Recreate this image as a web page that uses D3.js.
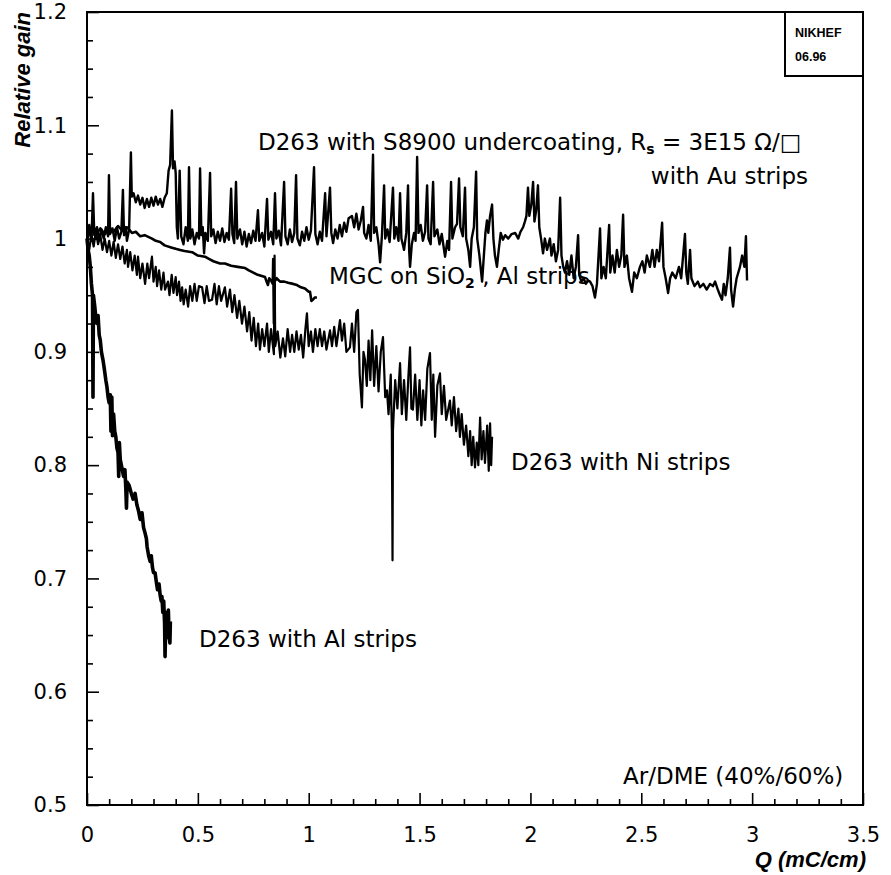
<!DOCTYPE html>
<html>
<head>
<meta charset="utf-8">
<script src="https://cdn.jsdelivr.net/npm/d3@7"></script>
<style>
  body { margin: 0; background: #fff; }
  svg { display: block; }
  .tick text { font-family: "DejaVu Sans", sans-serif; font-size: 21px; fill: #000; }
  .lbl { font-family: "DejaVu Sans", sans-serif; font-size: 23px; fill: #000; }
  .ttl { font-family: "Liberation Sans", Arial, sans-serif; font-weight: bold; font-style: italic; font-size: 22px; fill: #000; }
</style>
</head>
<body>
<script>
var width = 891, height = 875;

// Q (mC/cm) vs relative gain
var auStrips = [
  [0,1.0],[0.01,1.012],[0.02,0.998],[0.027,1.04],[0.033,1.003],[0.045,1.01],[0.055,0.999],[0.065,1.008],[0.075,1.0],[0.085,1.01],
  [0.095,1.002],[0.099,1.056],[0.104,1.004],[0.115,1.009],[0.125,0.998],[0.135,1.01],[0.145,1.0],[0.155,1.006],[0.162,1.043],[0.167,1.003],
  [0.175,1.01],[0.18,0.998],[0.19,1.008],[0.198,1.076],[0.202,1.037],[0.21,1.04],[0.22,1.032],[0.23,1.038],[0.24,1.03],[0.25,1.036],
  [0.26,1.027],[0.27,1.035],[0.28,1.028],[0.29,1.036],[0.30,1.029],[0.31,1.037],[0.32,1.03],[0.33,1.035],[0.34,1.028],[0.35,1.036],
  [0.36,1.04],[0.368,1.06],[0.375,1.065],[0.383,1.113],[0.388,1.062],[0.395,1.068],[0.40,1.058],[0.405,1.01],[0.41,1.0],[0.418,1.06],
  [0.425,1.002],[0.435,0.995],[0.445,1.01],[0.455,0.998],[0.46,1.063],[0.466,1.0],[0.475,1.008],[0.485,0.995],[0.495,1.005],[0.505,1.0],
  [0.51,1.062],[0.516,1.003],[0.522,1.01],[0.528,0.987],[0.534,1.005],[0.545,0.998],[0.555,1.058],[0.56,1.002],[0.57,1.008],[0.58,0.996],
  [0.59,1.006],[0.60,0.998],[0.61,1.009],[0.62,0.997],[0.63,1.005],[0.64,0.999],[0.65,1.044],[0.656,1.004],[0.664,0.996],[0.672,1.05],
  [0.678,1.0],[0.69,1.008],[0.70,0.995],[0.71,1.006],[0.72,0.993],[0.73,1.004],[0.74,0.996],[0.75,1.007],[0.76,0.998],[0.771,1.025],
  [0.777,0.998],[0.79,1.005],[0.80,0.993],[0.812,1.035],[0.818,0.999],[0.83,1.006],[0.84,0.995],[0.848,1.04],[0.854,1.0],[0.865,1.007],
  [0.875,0.994],[0.889,1.05],[0.895,1.002],[0.905,0.995],[0.915,1.008],[0.925,0.997],[0.935,1.005],[0.943,1.056],[0.949,1.0],[0.96,0.994],
  [0.97,1.006],[0.98,0.998],[0.99,1.01],[1.0,0.999],[1.01,1.007],[1.024,1.063],[1.03,1.004],[1.04,0.995],[1.05,1.006],[1.06,0.998],
  [1.074,1.04],[1.08,1.002],[1.096,1.045],[1.102,1.005],[1.11,0.996],[1.12,1.008],[1.13,1.0],[1.14,1.012],[1.15,1.002],[1.16,1.014],
  [1.17,1.006],[1.18,1.018],[1.195,1.02],[1.205,1.01],[1.215,1.022],[1.225,1.008],[1.235,1.016],[1.245,1.028],[1.25,1.005],[1.26,1.0],
  [1.27,1.012],[1.28,0.998],[1.29,1.074],[1.295,1.005],[1.305,1.01],[1.315,0.995],[1.322,0.979],[1.33,1.002],[1.34,1.047],[1.345,1.0],
  [1.355,1.008],[1.365,0.997],[1.38,1.045],[1.386,1.0],[1.395,1.01],[1.405,0.998],[1.412,1.04],[1.418,1.0],[1.43,0.99],[1.44,1.005],
  [1.448,1.047],[1.453,0.99],[1.457,0.975],[1.465,0.995],[1.475,1.005],[1.482,0.998],[1.489,1.072],[1.495,1.005],[1.505,1.012],[1.515,0.998],
  [1.525,1.006],[1.534,1.047],[1.54,1.0],[1.55,0.995],[1.561,1.05],[1.567,1.002],[1.58,1.008],[1.59,0.995],[1.6,1.004],[1.615,0.984],
  [1.625,0.998],[1.633,0.99],[1.642,1.05],[1.648,1.0],[1.66,1.01],[1.669,1.013],[1.678,1.053],[1.684,1.01],[1.695,1.002],[1.705,1.045],
  [1.71,1.0],[1.72,0.99],[1.728,0.975],[1.735,1.0],[1.745,1.01],[1.755,1.059],[1.76,1.0],[1.77,0.985],[1.782,0.962],[1.79,0.985],
  [1.797,1.005],[1.804,1.016],[1.81,1.005],[1.818,1.02],[1.827,1.03],[1.833,1.0],[1.84,0.985],[1.849,0.975],[1.857,0.99],[1.866,1.005],
  [1.876,0.999],[1.886,1.003],[1.9,1.0],[1.915,1.004],[1.931,1.005],[1.945,1.0],[1.955,1.006],[1.967,1.01],[1.975,1.015],[1.982,1.02],
  [1.989,1.045],[1.995,1.02],[2.004,1.03],[2.012,1.05],[2.018,1.015],[2.026,1.025],[2.034,1.047],[2.04,1.01],[2.048,1.0],[2.057,0.987],
  [2.065,1.0],[2.075,0.99],[2.088,1.0],[2.095,0.985],[2.105,0.995],[2.115,0.98],[2.125,0.99],[2.134,1.036],[2.14,0.985],[2.148,0.975],
  [2.156,0.97],[2.165,0.98],[2.175,0.968],[2.185,0.985],[2.195,0.965],[2.205,0.975],[2.215,1.003],[2.22,0.968],[2.23,0.962],[2.24,0.965],
  [2.25,0.96],[2.26,0.963],[2.269,0.962],[2.28,0.958],[2.291,0.948],[2.3,0.96],[2.314,1.009],[2.32,0.965],[2.33,0.975],[2.34,0.965],
  [2.355,1.012],[2.36,0.97],[2.37,0.985],[2.38,0.97],[2.39,0.99],[2.40,0.975],[2.41,0.985],[2.418,1.021],[2.424,0.975],[2.435,0.985],
  [2.445,0.965],[2.458,0.953],[2.468,0.97],[2.48,0.965],[2.494,0.975],[2.505,0.98],[2.515,0.97],[2.525,0.985],[2.539,0.975],[2.55,0.99],
  [2.56,0.975],[2.57,0.99],[2.58,0.98],[2.594,1.014],[2.6,0.975],[2.61,0.965],[2.621,0.952],[2.63,0.965],[2.64,0.97],[2.655,0.965],
  [2.67,0.975],[2.68,0.965],[2.697,1.004],[2.703,0.97],[2.71,0.96],[2.72,0.99],[2.726,0.965],[2.74,0.958],[2.755,0.962],[2.765,0.957],
  [2.78,0.96],[2.795,0.955],[2.81,0.96],[2.823,0.958],[2.833,0.962],[2.845,0.955],[2.855,0.95],[2.864,0.946],[2.872,0.96],[2.88,0.95],
  [2.89,0.965],[2.9,0.992],[2.905,0.955],[2.914,0.94],[2.922,0.955],[2.93,0.965],[2.945,0.975],[2.955,0.985],[2.965,0.975],[2.972,1.002],
  [2.977,0.963]
];

var mgcSiO2 = [
  [0,1.0],[0.02,1.008],[0.04,1.003],[0.06,1.009],[0.08,1.004],[0.10,1.01],[0.12,1.006],[0.14,1.011],[0.16,1.007],[0.18,1.01],
  [0.203,1.005],[0.22,1.006],[0.24,1.002],[0.26,1.003],[0.293,1.0],[0.31,0.998],[0.33,0.997],[0.35,0.994],[0.383,0.992],[0.40,0.991],
  [0.42,0.99],[0.44,0.989],[0.474,0.988],[0.50,0.985],[0.532,0.984],[0.55,0.982],[0.57,0.98],[0.6,0.978],[0.622,0.978],[0.65,0.976],
  [0.68,0.975],[0.713,0.974],[0.73,0.972],[0.75,0.97],[0.77,0.968],[0.803,0.966],[0.81,0.962],[0.816,0.959],[0.822,0.965],[0.83,0.963],
  [0.838,0.96],[0.84,0.982],[0.843,0.925],[0.846,0.962],[0.855,0.965],[0.871,0.962],[0.89,0.962],[0.907,0.961],[0.93,0.96],[0.947,0.959],
  [0.965,0.957],[0.983,0.956],[1.0,0.953],[1.006,0.953],[1.012,0.945],[1.019,0.946],[1.028,0.948],[1.037,0.948]
];

var niStrips = [
  [0,1.0],[0.01,0.99],[0.02,1.004],[0.03,0.993],[0.04,1.006],[0.05,0.995],[0.06,1.003],[0.07,0.99],[0.08,1.0],[0.09,0.988],
  [0.1,0.998],[0.11,0.985],[0.12,0.997],[0.13,0.983],[0.14,0.995],[0.15,0.982],[0.16,0.993],[0.17,0.978],[0.18,0.99],[0.185,0.975],
  [0.195,0.988],[0.205,0.972],[0.215,0.985],[0.225,0.968],[0.23,0.984],[0.24,0.965],[0.25,0.978],[0.262,0.96],[0.272,0.978],[0.28,0.965],
  [0.293,0.984],[0.3,0.962],[0.31,0.975],[0.316,0.958],[0.325,0.972],[0.335,0.955],[0.345,0.97],[0.352,0.955],[0.365,0.962],[0.372,0.95],
  [0.382,0.968],[0.39,0.952],[0.4,0.966],[0.406,0.95],[0.415,0.962],[0.422,0.945],[0.429,0.957],[0.436,0.942],[0.445,0.955],[0.456,0.94],
  [0.465,0.958],[0.475,0.945],[0.485,0.96],[0.495,0.945],[0.505,0.958],[0.519,0.957],[0.53,0.943],[0.54,0.958],[0.55,0.945],[0.564,0.946],
  [0.575,0.96],[0.585,0.942],[0.595,0.958],[0.605,0.945],[0.622,0.957],[0.632,0.94],[0.645,0.955],[0.655,0.935],[0.665,0.95],[0.677,0.93],
  [0.687,0.945],[0.699,0.925],[0.71,0.94],[0.722,0.918],[0.732,0.935],[0.742,0.91],[0.752,0.93],[0.762,0.905],[0.772,0.925],[0.78,0.902],
  [0.79,0.92],[0.8,0.905],[0.812,0.925],[0.82,0.9],[0.83,0.92],[0.843,0.898],[0.846,0.985],[0.849,0.905],[0.86,0.918],[0.872,0.895],
  [0.884,0.912],[0.894,0.896],[0.905,0.92],[0.916,0.9],[0.925,0.915],[0.935,0.9],[0.945,0.918],[0.955,0.902],[0.965,0.915],[0.975,0.895],
  [0.985,0.92],[0.992,0.934],[1.0,0.905],[1.01,0.918],[1.019,0.9],[1.03,0.92],[1.04,0.905],[1.05,0.92],[1.06,0.905],[1.07,0.918],
  [1.08,0.902],[1.096,0.919],[1.105,0.905],[1.115,0.922],[1.125,0.905],[1.141,0.928],[1.15,0.91],[1.16,0.925],[1.17,0.9],[1.186,0.904],
  [1.195,0.925],[1.205,0.9],[1.215,0.935],[1.222,0.937],[1.23,0.88],[1.24,0.851],[1.247,0.9],[1.254,0.893],[1.262,0.87],[1.27,0.91],
  [1.278,0.875],[1.286,0.919],[1.295,0.87],[1.305,0.905],[1.315,0.865],[1.325,0.9],[1.335,0.913],[1.345,0.86],[1.353,0.866],[1.36,0.845],
  [1.37,0.88],[1.375,0.83],[1.378,0.716],[1.38,0.831],[1.39,0.875],[1.4,0.85],[1.412,0.89],[1.42,0.845],[1.43,0.875],[1.44,0.84],
  [1.45,0.88],[1.457,0.904],[1.463,0.85],[1.47,0.849],[1.48,0.88],[1.49,0.84],[1.5,0.875],[1.508,0.835],[1.516,0.866],[1.525,0.84],
  [1.535,0.885],[1.547,0.899],[1.555,0.84],[1.562,0.88],[1.57,0.825],[1.58,0.87],[1.592,0.881],[1.6,0.845],[1.61,0.87],[1.62,0.84],
  [1.637,0.857],[1.645,0.835],[1.655,0.86],[1.665,0.83],[1.675,0.85],[1.682,0.825],[1.69,0.845],[1.7,0.818],[1.71,0.835],[1.72,0.808],
  [1.728,0.83],[1.735,0.8],[1.742,0.825],[1.75,0.798],[1.758,0.82],[1.765,0.8],[1.773,0.842],[1.78,0.805],[1.788,0.83],[1.795,0.802],
  [1.805,0.835],[1.812,0.795],[1.818,0.837],[1.823,0.8],[1.827,0.825]
];

var alStrips = [
  [0,1.0],[0.005,0.99],[0.01,0.985],[0.015,0.975],[0.02,0.96],[0.025,0.95],[0.027,0.86],[0.029,0.95],[0.035,0.94],[0.04,0.93],
  [0.045,0.925],[0.05,0.932],[0.055,0.915],[0.06,0.91],[0.065,0.9],[0.072,0.893],[0.078,0.885],[0.085,0.875],[0.09,0.869],[0.095,0.86],
  [0.1,0.855],[0.105,0.862],[0.108,0.83],[0.112,0.86],[0.115,0.826],[0.12,0.845],[0.125,0.83],[0.13,0.825],[0.135,0.815],[0.14,0.811],
  [0.143,0.79],[0.146,0.82],[0.15,0.805],[0.155,0.8],[0.16,0.795],[0.165,0.79],[0.171,0.796],[0.175,0.78],[0.178,0.762],[0.181,0.785],
  [0.19,0.782],[0.2,0.775],[0.208,0.77],[0.217,0.775],[0.225,0.765],[0.232,0.76],[0.24,0.752],[0.248,0.758],[0.255,0.745],[0.262,0.74],
  [0.268,0.735],[0.271,0.728],[0.278,0.72],[0.285,0.715],[0.29,0.72],[0.295,0.71],[0.3,0.705],[0.307,0.705],[0.312,0.698],[0.318,0.69],
  [0.325,0.695],[0.33,0.685],[0.335,0.68],[0.338,0.684],[0.342,0.67],[0.346,0.68],[0.35,0.66],[0.352,0.631],[0.355,0.66],[0.36,0.67],
  [0.363,0.648],[0.367,0.672],[0.37,0.65],[0.374,0.643],[0.376,0.662]
];

var xMajor = [0, 0.5, 1, 1.5, 2, 2.5, 3, 3.5];
var yMajor = [0.5, 0.6, 0.7, 0.8, 0.9, 1.0, 1.1, 1.2];

var margin = { left: 87, top: 12, right: 28, bottom: 70 };
var x = d3.scaleLinear().domain([0, 3.5]).range([margin.left, width - margin.right]);
var y = d3.scaleLinear().domain([0.5, 1.2]).range([height - margin.bottom, margin.top]);

var svg = d3.select("body").append("svg")
    .attr("width", width)
    .attr("height", height);

var xMinor = d3.range(0, 36).map(function (i) { return i / 10; }).filter(function (v) { return Math.round(v * 10) % 5 !== 0; });
var yMinor = d3.range(20, 48).map(function (i) { return i / 40; }).filter(function (v) { return Math.round(v * 40) % 4 !== 0; });

// minor ticks, no labels
svg.append("g")
    .attr("transform", "translate(0," + y(0.5) + ")")
    .call(d3.axisBottom(x).tickValues(xMinor).tickSize(-6).tickFormat(""))
    .call(function (g) { g.select(".domain").remove(); });
svg.append("g")
    .attr("transform", "translate(" + x(0) + ",0)")
    .call(d3.axisLeft(y).tickValues(yMinor).tickSize(-6).tickFormat(""))
    .call(function (g) { g.select(".domain").remove(); });

// major ticks with labels
svg.append("g")
    .attr("transform", "translate(0," + y(0.5) + ")")
    .call(d3.axisBottom(x).tickValues(xMajor).tickSize(-12).tickPadding(22).tickFormat(d3.format("")))
    .call(function (g) { g.select(".domain").remove(); });
svg.append("g")
    .attr("transform", "translate(" + x(0) + ",0)")
    .call(d3.axisLeft(y).tickValues(yMajor).tickSize(-12).tickPadding(20).tickFormat(d3.format("")))
    .call(function (g) { g.select(".domain").remove(); });

svg.selectAll(".tick line").attr("stroke", "#000").attr("stroke-width", 1.6);

// frame
svg.append("rect")
    .attr("x", x(0)).attr("y", y(1.2))
    .attr("width", x(3.5) - x(0)).attr("height", y(0.5) - y(1.2))
    .attr("fill", "none").attr("stroke", "#000").attr("stroke-width", 2);

// stamp box
svg.append("rect")
    .attr("x", 785).attr("y", y(1.2))
    .attr("width", x(3.5) - 785).attr("height", 64)
    .attr("fill", "#fff").attr("stroke", "#000").attr("stroke-width", 2);
svg.append("text").attr("x", 795).attr("y", 37)
    .style("font-family", "Liberation Sans, Arial, sans-serif").style("font-weight", "bold").style("font-size", "12.5px")
    .text("NIKHEF");
svg.append("text").attr("x", 795).attr("y", 61)
    .style("font-family", "Liberation Sans, Arial, sans-serif").style("font-weight", "bold").style("font-size", "12.5px")
    .text("06.96");

var line = d3.line()
    .x(function (d) { return x(d[0]); })
    .y(function (d) { return y(d[1]); });

var series = [
    { data: niStrips, width: 2.2 },
    { data: auStrips, width: 2.4 },
    { data: mgcSiO2, width: 2.6 },
    { data: alStrips, width: 3.6 }
];

svg.selectAll(".curve")
    .data(series)
    .enter().append("path")
    .attr("class", "curve")
    .attr("d", function (d) { return line(d.data); })
    .attr("fill", "none")
    .attr("stroke", "#000")
    .attr("stroke-width", function (d) { return d.width; })
    .attr("stroke-linejoin", "round");

// annotations
var t1 = svg.append("text").attr("class", "lbl").attr("x", 258).attr("y", 150);
t1.append("tspan").text("D263 with S8900 undercoating, R");
t1.append("tspan").attr("dy", 4).style("font-size", "14px").style("font-weight", "bold").text("s");
t1.append("tspan").attr("dy", -4).text(" = 3E15 \u03A9/\u25A1");

svg.append("text").attr("class", "lbl").attr("x", 808).attr("y", 184)
    .attr("text-anchor", "end").text("with Au strips");

var t2 = svg.append("text").attr("class", "lbl").attr("x", 329).attr("y", 284);
t2.append("tspan").text("MGC on SiO");
t2.append("tspan").attr("dy", 4).style("font-size", "14px").style("font-weight", "bold").text("2");
t2.append("tspan").attr("dy", -4).text(" , Al strips");

svg.append("text").attr("class", "lbl").attr("x", 511).attr("y", 470).text("D263 with Ni strips");
svg.append("text").attr("class", "lbl").attr("x", 199).attr("y", 647).text("D263 with Al strips");
svg.append("text").attr("class", "lbl").attr("x", 623).attr("y", 784).text("Ar/DME (40%/60%)");

// axis titles
svg.append("text").attr("class", "ttl")
    .attr("transform", "translate(30,12) rotate(-90)")
    .attr("text-anchor", "end")
    .text("Relative gain");
svg.append("text").attr("class", "ttl")
    .attr("x", 866).attr("y", 867)
    .attr("text-anchor", "end")
    .text("Q (mC/cm)");
</script>
</body>
</html>
